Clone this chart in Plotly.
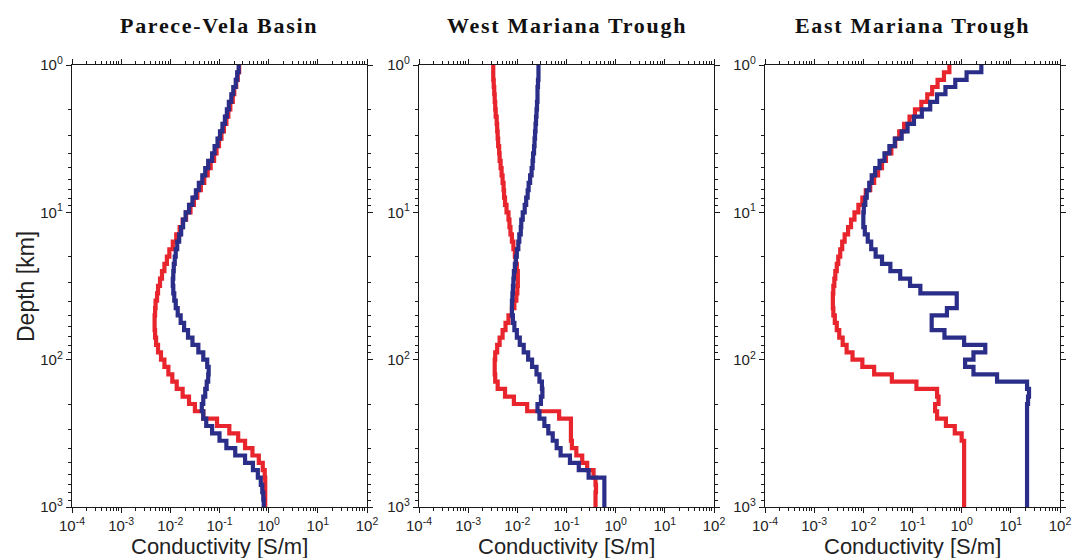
import plotly.graph_objects as go

# Layer-top depths [km] (20 layers per decade) plus bottom of model
depth_km = [
    1.0, 1.12, 1.26, 1.41, 1.58, 1.78, 2.0, 2.24, 2.51, 2.82, 3.16, 3.55, 3.98, 4.47, 5.01, 5.62, 6.31, 7.08, 7.94, 8.91,
    10.0, 11.2, 12.6, 14.1, 15.8, 17.8, 20.0, 22.4, 25.1, 28.2, 31.6, 35.5, 39.8, 44.7, 50.1, 56.2, 63.1, 70.8, 79.4, 89.1,
    100.0, 112.0, 126.0, 141.0, 158.0, 178.0, 200.0, 224.0, 251.0, 282.0, 316.0, 355.0, 398.0, 447.0, 501.0, 562.0, 631.0, 708.0, 794.0, 891.0,
    1000.0,
]

panel_titles = ["Parece-Vela Basin", "West Mariana Trough", "East Mariana Trough"]

# log10 of conductivity [S/m] per layer
pvb_red_log = [
    -0.60, -0.63, -0.66, -0.70, -0.73, -0.78, -0.82, -0.86, -0.91, -0.96,
    -1.01, -1.06, -1.11, -1.18, -1.24, -1.31, -1.38, -1.45, -1.52, -1.59,
    -1.68, -1.75, -1.81, -1.88, -1.95, -2.02, -2.07, -2.12, -2.17, -2.21,
    -2.25, -2.27, -2.30, -2.31, -2.32, -2.32, -2.31, -2.29, -2.25, -2.19,
    -2.12, -2.04, -1.96, -1.87, -1.75, -1.62, -1.50, -1.33, -1.05, -0.80,
    -0.62, -0.48, -0.33, -0.20, -0.12, -0.08, -0.07, -0.07, -0.07, -0.07,
]
pvb_blue_log = [
    -0.61, -0.64, -0.67, -0.72, -0.76, -0.81, -0.85, -0.89, -0.94, -0.99,
    -1.04, -1.10, -1.15, -1.23, -1.29, -1.35, -1.42, -1.48, -1.55, -1.62,
    -1.69, -1.74, -1.78, -1.82, -1.86, -1.89, -1.91, -1.93, -1.94, -1.95,
    -1.94, -1.92, -1.89, -1.85, -1.79, -1.72, -1.64, -1.55, -1.43, -1.33,
    -1.25, -1.22, -1.23, -1.26, -1.29, -1.33, -1.36, -1.33, -1.27, -1.15,
    -1.00, -0.86, -0.68, -0.48, -0.32, -0.22, -0.16, -0.13, -0.11, -0.10,
]
wmt_red_log = [
    -2.49, -2.49, -2.48, -2.47, -2.46, -2.45, -2.44, -2.42, -2.41, -2.40,
    -2.39, -2.37, -2.36, -2.34, -2.32, -2.30, -2.28, -2.27, -2.25, -2.22,
    -2.18, -2.16, -2.14, -2.11, -2.08, -2.05, -2.03, -2.01, -1.99, -1.99,
    -2.00, -2.02, -2.06, -2.11, -2.18, -2.24, -2.30, -2.36, -2.41, -2.45,
    -2.46, -2.46, -2.45, -2.40, -2.25, -2.07, -1.80, -1.15, -0.91, -0.91,
    -0.91, -0.89, -0.80, -0.68, -0.58, -0.45, -0.41, -0.40, -0.41, -0.41,
]
wmt_blue_log = [
    -1.57, -1.57, -1.58, -1.59, -1.59, -1.60, -1.61, -1.62, -1.63, -1.64,
    -1.65, -1.66, -1.68, -1.69, -1.71, -1.74, -1.77, -1.79, -1.82, -1.85,
    -1.89, -1.92, -1.93, -1.96, -1.98, -2.01, -2.03, -2.05, -2.07, -2.08,
    -2.09, -2.10, -2.11, -2.11, -2.09, -2.06, -2.01, -1.95, -1.87, -1.78,
    -1.70, -1.61, -1.55, -1.50, -1.49, -1.52, -1.59, -1.55, -1.45, -1.37,
    -1.28, -1.20, -1.12, -0.93, -0.75, -0.55, -0.23, -0.23, -0.23, -0.23,
]
emt_red_log = [
    -0.25, -0.36, -0.49, -0.60, -0.70, -0.82, -0.95, -1.06, -1.17, -1.27,
    -1.35, -1.43, -1.54, -1.62, -1.70, -1.78, -1.86, -1.95, -2.02, -2.10,
    -2.18, -2.25, -2.31, -2.38, -2.43, -2.47, -2.51, -2.54, -2.57, -2.59,
    -2.61, -2.62, -2.62, -2.61, -2.58, -2.54, -2.49, -2.42, -2.34, -2.22,
    -2.02, -1.78, -1.42, -0.92, -0.50, -0.47, -0.54, -0.50, -0.32, -0.14,
    0.00, 0.05, 0.05, 0.05, 0.05, 0.05, 0.05, 0.05, 0.05, 0.05,
]
emt_blue_log = [
    0.40, 0.10, -0.13, -0.33, -0.50, -0.64, -0.81, -0.97, -1.10, -1.22,
    -1.36, -1.47, -1.57, -1.67, -1.76, -1.83, -1.88, -1.93, -1.96, -1.99,
    -2.00, -2.00, -1.97, -1.91, -1.84, -1.75, -1.62, -1.45, -1.25, -1.05,
    -0.84, -0.10, -0.10, -0.30, -0.61, -0.61, -0.35, 0.05, 0.48, 0.24,
    0.07, 0.24, 0.72, 1.33, 1.37, 1.35, 1.33, 1.33, 1.33, 1.33,
    1.33, 1.33, 1.33, 1.33, 1.33, 1.33, 1.33, 1.33, 1.33, 1.33,
]

x_tick_vals = [1e-4, 1e-3, 1e-2, 1e-1, 1e0, 1e1, 1e2]
x_tick_text = ["10<sup>-4</sup>", "10<sup>-3</sup>", "10<sup>-2</sup>", "10<sup>-1</sup>",
               "10<sup>0</sup>", "10<sup>1</sup>", "10<sup>2</sup>"]
y_tick_vals = [1, 10, 100, 1000]
y_tick_text = ["10<sup>0</sup>", "10<sup>1</sup>", "10<sup>2</sup>", "10<sup>3</sup>"]

RED = "#E8252D"
BLUE = "#2B2E88"
AX = "#1a1a1a"
SANS = "Liberation Sans, Arial, sans-serif"

W, H = 1073, 558
panel_px = [(72, 367), (419, 714), (765, 1060)]
top_px, bot_px = 65, 507

series = [(pvb_red_log, pvb_blue_log), (wmt_red_log, wmt_blue_log), (emt_red_log, emt_blue_log)]


def to_sigma(logs):
    vals = [10 ** v for v in logs]
    return vals + [vals[-1]]


x_minor = [m * 10 ** e for e in range(-4, 2) for m in range(2, 10)]
y_minor = [m * 10 ** e for e in range(0, 3) for m in range(2, 10)]

fig = go.Figure()
annotations = []
for i, ((red, blue), (x0, x1), title) in enumerate(zip(series, panel_px, panel_titles)):
    sfx = "" if i == 0 else str(i + 1)
    for vals, col in ((red, RED), (blue, BLUE)):
        fig.add_trace(go.Scatter(
            x=to_sigma(vals), y=depth_km, mode="lines",
            line=dict(color=col, width=4.2, shape="vh"),
            xaxis="x" + sfx, yaxis="y" + sfx, showlegend=False,
        ))
    common = dict(
        showline=True, linecolor=AX, linewidth=1.4, mirror="allticks",
        ticks="outside", ticklen=5, tickwidth=1.2, tickcolor=AX,
        showgrid=False, zeroline=False, automargin=False,
        tickfont=dict(family=SANS, size=15, color="#222"),
    )
    fig.update_layout(**{
        "xaxis" + sfx: dict(
            type="log", range=[-4, 2], domain=[x0 / W, x1 / W], anchor="y" + sfx,
            tickmode="array", tickvals=x_tick_vals, ticktext=x_tick_text,
            minor=dict(tickmode="array", tickvals=x_minor, ticks="outside", ticklen=3,
                       tickwidth=1, tickcolor=AX),
            **common,
        ),
        "yaxis" + sfx: dict(
            type="log", range=[3, 0], domain=[1 - bot_px / H, 1 - top_px / H], anchor="x" + sfx,
            tickmode="array", tickvals=y_tick_vals, ticktext=y_tick_text,
            minor=dict(tickmode="array", tickvals=y_minor, ticks="outside", ticklen=3,
                       tickwidth=1, tickcolor=AX),
            **common,
        ),
    })
    cx = (x0 + x1) / 2 / W
    annotations.append(dict(
        text='<b><span style="letter-spacing:1.7px">' + title + "</span></b>",
        x=cx, y=1 - 25 / H, xref="paper", yref="paper",
        showarrow=False, xanchor="center", yanchor="middle",
        font=dict(family="Liberation Serif, Times New Roman, serif", size=22, color="#111"),
    ))
    annotations.append(dict(
        text="Conductivity [S/m]", x=cx, y=1 - 546 / H, xref="paper", yref="paper",
        showarrow=False, xanchor="center", yanchor="middle",
        font=dict(family=SANS, size=22, color="#222"),
    ))

annotations.append(dict(
    text="Depth [km]", x=26 / W, y=1 - 287 / H, xref="paper", yref="paper",
    showarrow=False, xanchor="center", yanchor="middle", textangle=-90,
    font=dict(family=SANS, size=23, color="#222"),
))

fig.update_layout(
    width=W, height=H, margin=dict(l=0, r=0, t=0, b=0, autoexpand=False),
    paper_bgcolor="white", plot_bgcolor="white",
    annotations=annotations,
)

fig.write_html(
    "out.html",
    config={"displayModeBar": False},
    post_script="document.body.style.margin='0px';document.body.style.overflow='hidden';",
)
